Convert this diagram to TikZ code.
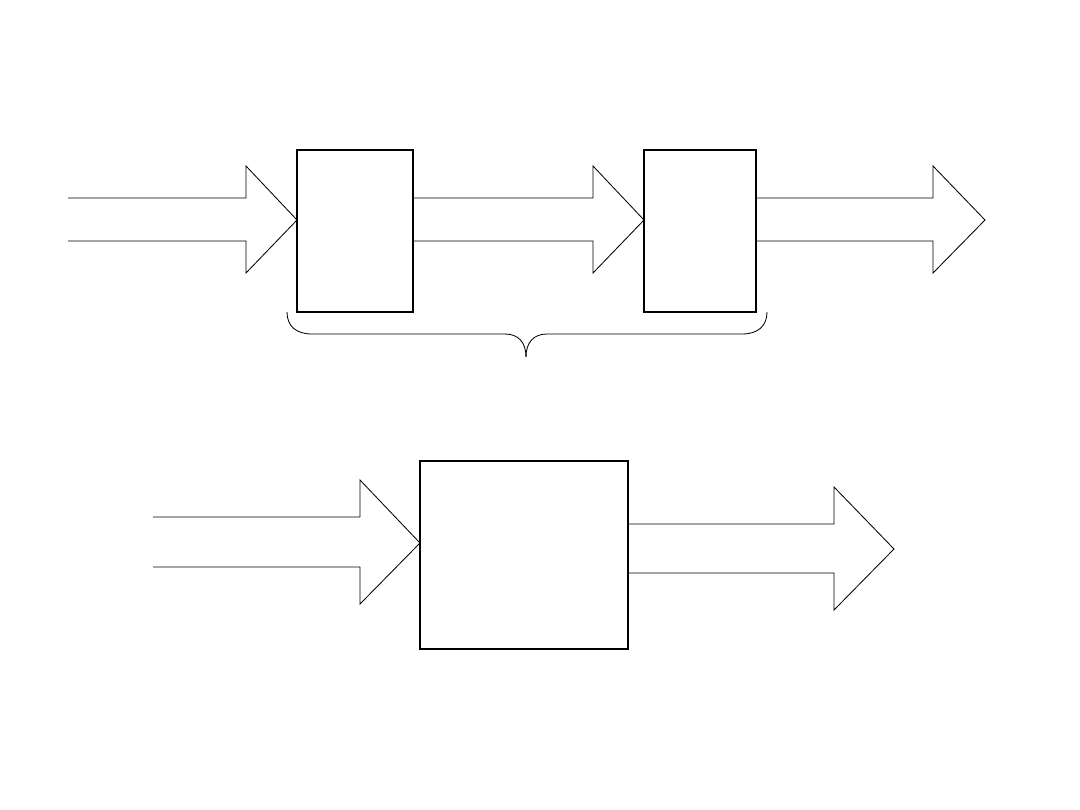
\documentclass[tikz,border=0pt]{standalone}
\usepackage{tikz}

\begin{document}
\begin{tikzpicture}[
    x=0.025cm, y=-0.025cm,
    stage/.style={draw=black, line width=0.8pt, inner sep=0pt},
    fatarrow/.style={draw=black, line width=0.6pt, line join=miter},
    bracket/.style={draw=black, line width=0.6pt}
]
\useasboundingbox (0,0) rectangle (1080,810);
% top row
\node[stage, minimum width=2.9cm, minimum height=4.05cm] (boxa) at (355,231) {};
\node[stage, minimum width=2.8cm, minimum height=4.05cm] (boxb) at (700,231) {};
\coordinate (tipa) at (297,220);
\coordinate (tipb) at (644,220);
\coordinate (tipc) at (985,220);
\draw[fatarrow] (68,198) -- (246,198) -- (246,166) -- (tipa)
    -- (246,273) -- (246,241) -- (68,241);
\draw[fatarrow] (boxa.east |- 0,198) -- (593,198) -- (593,166) -- (tipb)
    -- (593,273) -- (593,241) -- (boxa.east |- 0,241);
\draw[fatarrow] (boxb.east |- 0,198) -- (933,198) -- (933,166) -- (tipc)
    -- (933,273) -- (933,241) -- (boxb.east |- 0,241);
% brace under both stages
\coordinate (brl) at (287,312);
\coordinate (brr) at (767,312);
\coordinate (brm) at (526,357);
\draw[bracket] (brl) .. controls (287,326) and (296,334) .. (312,334)
    -- (505,334) .. controls (518,334) and (526,342) .. (brm);
\draw[bracket] (brr) .. controls (767,326) and (758,334) .. (742,334)
    -- (547,334) .. controls (534,334) and (526,342) .. (brm);
% bottom row
\node[stage, minimum width=5.2cm, minimum height=4.7cm] (boxc) at (524,555) {};
\coordinate (tipd) at (420,543);
\coordinate (tipe) at (894,549);
\draw[fatarrow] (153,517) -- (360,517) -- (360,480) -- (tipd)
    -- (360,604) -- (360,567) -- (153,567);
\draw[fatarrow] (boxc.east |- 0,524) -- (834,524) -- (834,487) -- (tipe)
    -- (834,610) -- (834,573) -- (boxc.east |- 0,573);
\end{tikzpicture}
\end{document}
